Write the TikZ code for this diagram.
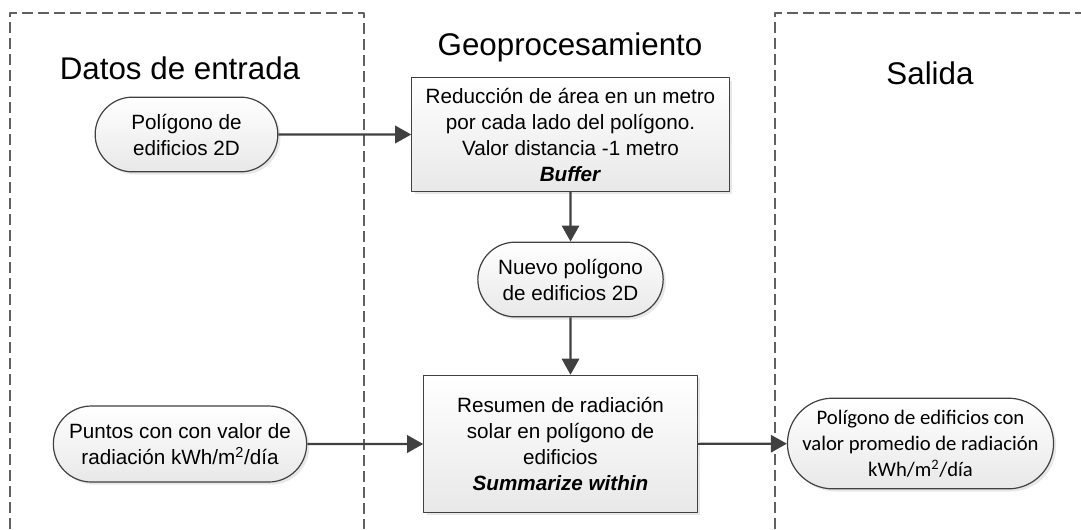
\documentclass[tikz,border=0pt]{standalone}
\usepackage{fontspec}
\setmainfont{Liberation Sans}
\newfontfamily\calibri{Carlito}
\usetikzlibrary{shapes.misc,shadows,arrows.meta}

\definecolor{linegray}{HTML}{404040}
\definecolor{dashgray}{HTML}{606060}

\begin{document}
\begin{tikzpicture}[
    x = 0.75pt, y = -0.75pt,
    line join=round,
    base/.style = {draw=linegray, line width=0.9pt, top color=white, bottom color=gray!18,
                   drop shadow={opacity=0.18, shadow xshift=2pt, shadow yshift=-2pt},
                   align=center, inner sep=0pt, font=\fontsize{15.5}{19.5}\selectfont},
    terminal/.style = {base, rounded rectangle},
    procbox/.style = {base, rectangle},
    panel/.style = {dashgray, line width=1.1pt, dash pattern=on 8pt off 4pt},
    title/.style = {font=\fontsize{23.5}{28}\selectfont},
    flow/.style = {linegray, line width=1.6pt, -{Triangle[length=12pt, width=13pt]}}
]
    \useasboundingbox (0,0) rectangle (1081,529);

    \coordinate (in1) at (186.5,134.5);
    \coordinate (in2) at (180,444);
    \coordinate (buf) at (570.5,134.5);
    \coordinate (nuevo) at (570.5,279.5);
    \coordinate (summ) at (560.5,444);
    \coordinate (out) at (920.5,443.5);

    % dashed columns
    \draw[panel] (10,529) -- (10,13) -- (364,13) -- (364,529);
    \draw[panel] (775,529) -- (775,13) -- (1081,13);

    \node[title] (tin) at (180,68) {Datos de entrada};
    \node[title] (tgeo) at (570,47) {Geoprocesamiento};
    \node[title] (tout) at (930,73) {Salida};

    \node[terminal, minimum width=137pt, minimum height=56pt] (poly) at (in1)
        {Polígono de\\edificios 2D};
    \node[terminal, minimum width=190pt, minimum height=57pt] (pts) at (in2)
        {Puntos con con valor de\\radiación kWh/m\textsuperscript{2}/día};

    \node[procbox, minimum width=238pt, minimum height=85pt] (buffer) at (buf)
        {Reducción de área en un metro\\por cada lado del polígono.\\Valor distancia -1 metro\\\textbf{\textit{Buffer}}};
    \node[terminal, minimum width=139pt, minimum height=56pt] (newpoly) at (nuevo)
        {Nuevo polígono\\de edificios 2D};
    \node[procbox, minimum width=205pt, minimum height=103pt] (summarize) at (summ)
        {Resumen de radiación\\solar en polígono de\\edificios\\\textbf{\textit{Summarize within}}};

    \node[terminal, minimum width=191pt, minimum height=68pt, font=\calibri\fontsize{15.5}{19.5}\selectfont] (result) at (out)
        {Polígono de edificios con\\valor promedio de radiación\\kWh/m\textsuperscript{2}/día};

    \draw[flow] (poly) -- (buffer);
    \draw[flow] (buffer.south -| newpoly) -- (newpoly);
    \draw[flow] (newpoly) -- (newpoly |- summarize.north);
    \draw[flow] (pts) -- (summarize);
    \draw[flow] (summarize) -- (result);

\end{tikzpicture}
\end{document}
